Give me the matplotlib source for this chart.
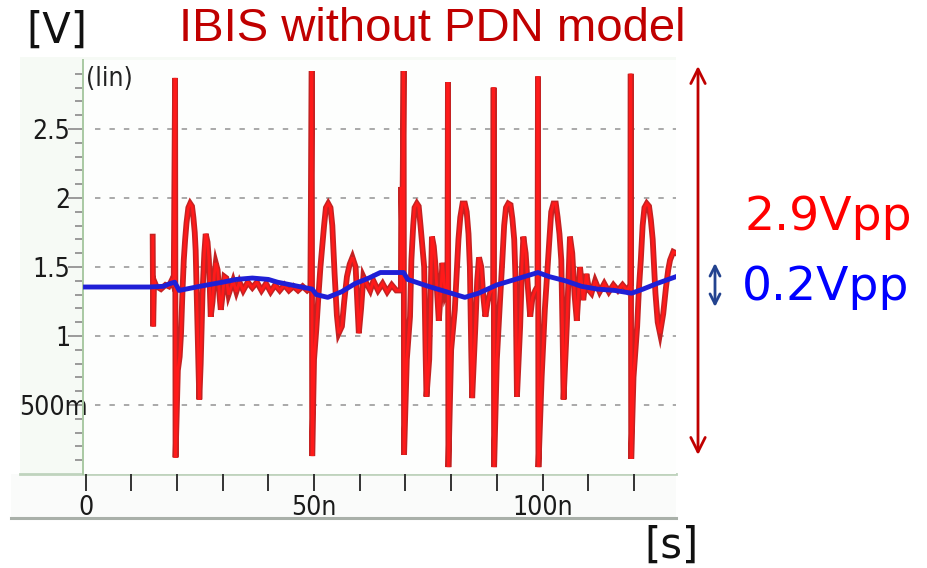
import matplotlib
matplotlib.use("Agg")
import matplotlib.pyplot as plt
import matplotlib.patheffects as pe
from matplotlib.patches import Rectangle, FancyArrowPatch
from matplotlib.lines import Line2D
from matplotlib.transforms import ScaledTranslation
from matplotlib.font_manager import FontProperties

# ---------------- data (time in ns, voltage in V) ----------------
red_t = [14.7, 14.8, 15.0, 15.5, 16.5, 17.5, 18.2, 18.8, 19.3,
         19.6, 19.7, 20.2, 20.6, 20.9, 21.2, 21.5, 21.8, 22.1, 22.5, 22.9, 23.3, 23.6,
         23.9, 24.1, 24.4, 24.7, 24.9, 25.2, 25.6, 26.0, 26.3, 26.7, 27.0, 27.4, 27.8,
         28.2, 28.5, 28.9, 29.3, 29.6, 30.0, 30.4, 30.8, 31.3, 31.8, 32.3, 33.0, 33.7,
         34.5, 35.5, 36.5, 37.5, 38.5, 39.5, 40.5, 41.5, 42.5, 43.5, 44.5, 45.5, 46.5,
         47.5, 48.5, 49.2,
         49.5, 49.6, 50.0, 50.5, 51.0, 51.4, 51.8, 52.2, 52.6, 53.1, 53.6, 54.0, 54.5,
         55.0, 55.4, 56.1, 56.6, 57.2, 57.8, 58.4, 59.1, 59.8, 60.3, 60.8, 61.5, 62.3,
         63.0, 64.0, 65.0, 66.0, 67.0, 68.0, 69.0, 69.1, 69.3,
         69.6, 69.7, 70.3, 71.0, 71.3, 71.7, 72.0, 72.5, 72.9, 73.3, 73.7, 74.1, 74.4,
         74.6, 75.2, 75.8, 76.2, 76.6, 77.3, 77.7, 78.1, 78.7, 79.2,
         79.3, 79.4, 80.0, 80.8, 81.2, 81.6, 82.0, 82.5, 83.0, 83.4, 83.8, 84.1, 84.4,
         84.6, 85.3, 85.7, 86.1, 86.6, 87.0, 87.5, 88.0, 88.5, 89.2,
         89.3, 89.4, 90.0, 90.6, 91.2, 91.6, 92.0, 92.5, 93.0, 93.4, 93.8, 94.1,
         94.4, 95.1, 95.5, 95.8, 96.3, 96.8, 97.3, 97.8, 98.4, 98.9,
         99.0, 99.1, 99.8, 100.5, 101.0, 101.5, 101.9, 102.4, 102.9, 103.3, 103.7,
         104.1, 104.4, 104.6, 105.3, 105.7, 106.0, 106.5, 107.0, 107.5, 108.2, 108.9,
         109.6, 110.2, 110.7, 111.5, 112.5, 113.5, 114.5, 115.5, 116.5, 117.5, 118.5,
         119.2,
         119.3, 119.4, 119.9, 120.7, 121.1, 121.5, 121.9, 122.3, 122.8, 123.3, 123.7,
         124.1, 124.7, 125.2, 125.7, 126.4, 127.0, 127.5, 127.9, 128.6, 129.2]
red_v = [1.72, 1.07, 1.40, 1.36, 1.34, 1.37, 1.36, 1.40, 1.36,
         2.87, 0.12, 0.75, 0.85, 1.02, 1.31, 1.55, 1.70, 1.82, 1.93, 1.96, 1.94, 1.86,
         1.75, 1.62, 1.20, 0.80, 0.54, 0.80, 1.31, 1.60, 1.74, 1.68, 1.55, 1.14, 1.25,
         1.45, 1.53, 1.48, 1.30, 1.19, 1.30, 1.43, 1.42, 1.30, 1.35, 1.40, 1.32, 1.39,
         1.33, 1.39, 1.35, 1.39, 1.33, 1.38, 1.32, 1.37, 1.33, 1.37, 1.33, 1.36, 1.33,
         1.36, 1.33, 1.35,
         2.92, 0.13, 0.83, 1.05, 1.31, 1.50, 1.65, 1.80, 1.93, 1.96, 1.93, 1.80, 1.45,
         1.15, 1.02, 1.07, 1.25, 1.43, 1.52, 1.57, 1.50, 1.02, 1.20, 1.43, 1.38, 1.33,
         1.40, 1.33, 1.38, 1.32, 1.37, 1.33, 1.33, 2.08, 1.70,
         2.92, 0.14, 0.83, 1.14, 1.55, 1.80, 1.93, 1.96, 1.94, 1.80, 1.65, 1.50, 0.90,
         0.56, 0.83, 1.72, 1.65, 1.50, 1.11, 1.30, 1.53, 1.31, 1.36,
         2.84, 0.05, 0.90, 1.19, 1.45, 1.70, 1.86, 1.96, 1.96, 1.90, 1.74, 1.50, 0.90,
         0.55, 1.07, 1.40, 1.57, 1.50, 1.30, 1.14, 1.25, 1.31, 1.36,
         2.80, 0.05, 0.83, 1.20, 1.55, 1.80, 1.93, 1.96, 1.95, 1.85, 1.70, 1.40,
         0.56, 1.07, 1.50, 1.72, 1.60, 1.35, 1.14, 1.28, 1.33, 1.36,
         2.88, 0.05, 0.70, 1.19, 1.45, 1.70, 1.90, 1.96, 1.96, 1.86, 1.74,
         1.55, 1.00, 0.54, 1.07, 1.45, 1.72, 1.60, 1.30, 1.11, 1.50, 1.26,
         1.45, 1.33, 1.31, 1.40, 1.32, 1.38, 1.32, 1.37, 1.33, 1.37, 1.33,
         1.37,
         2.90, 0.11, 0.70, 1.07, 1.35, 1.55, 1.80, 1.93, 1.96, 1.94, 1.84,
         1.70, 1.31, 1.10, 1.02, 1.16, 1.35, 1.48, 1.55, 1.61, 1.60]

blue_t = [0, 14, 17, 18.5, 19.5, 20.5, 22, 25, 30, 33, 36.5, 40, 42, 45, 48, 49.6,
          50.5, 53, 56, 59, 62, 64.5, 66, 69.6, 70.5, 75, 80, 83, 86, 90, 95, 99,
          101.5, 105, 108.5, 112, 115.8, 119.5, 122, 125, 129.2]
blue_v = [1.355, 1.355, 1.36, 1.38, 1.39, 1.33, 1.34, 1.36, 1.39, 1.41, 1.42, 1.41,
          1.39, 1.37, 1.35, 1.34, 1.30, 1.28, 1.32, 1.38, 1.42, 1.46, 1.46, 1.46,
          1.41, 1.36, 1.31, 1.28, 1.31, 1.37, 1.42, 1.46, 1.43, 1.40, 1.36, 1.34,
          1.33, 1.31, 1.34, 1.38, 1.43]

y_major = [0.5, 1.0, 1.5, 2.0, 2.5]
y_major_labels = ["500m", "1", "1.5", "2", "2.5"]
x_major = [0, 50, 100]
x_major_labels = ["0", "50n", "100n"]
x_minor = [10, 20, 30, 40, 60, 70, 80, 90, 110, 120]

title = "IBIS without PDN model"
red_pp = "2.9Vpp"
blue_pp = "0.2Vpp"

# ---------------- layout helpers ----------------
W, H = 928, 568
def fx(x): return x / W
def fy(y): return 1 - y / H

tick_font = FontProperties(family="DejaVu Sans", stretch="condensed", size=19)

fig = plt.figure(figsize=(W / 100, H / 100), dpi=100)
fig.patch.set_facecolor("white")

# screenshot frame backgrounds
fig.patches.append(Rectangle((fx(20), fy(474)), fx(676) - fx(20), fy(57) - fy(474),
                             transform=fig.transFigure, facecolor="#f6faf5",
                             edgecolor="none", zorder=-10))
fig.patches.append(Rectangle((fx(11), fy(518)), fx(676) - fx(11), fy(474) - fy(518),
                             transform=fig.transFigure, facecolor="#fafbfa",
                             edgecolor="none", zorder=-10))
fig.lines.append(Line2D([fx(11), fx(676)], [fy(518), fy(518)], transform=fig.transFigure,
                        color="#a9b0a9", lw=2.2, zorder=-5))
fig.lines.append(Line2D([fx(20), fx(676)], [fy(474), fy(474)], transform=fig.transFigure,
                        color="#bfd3bd", lw=2.0, zorder=-5))

ax = fig.add_axes([fx(83), fy(474), fx(676) - fx(83), fy(60) - fy(474)])
ax.set_zorder(1)
ax.set_facecolor("#fdfefd")
ax.set_xlim(-0.55, 129.2)
ax.set_ylim(0, 3.0)

for s in ["top", "right", "bottom"]:
    ax.spines[s].set_visible(False)
ax.spines["left"].set_color("#a9c9a3")
ax.spines["left"].set_linewidth(1.4)

ax.set_yticks(y_major)
ax.set_yticklabels(y_major_labels)
ax.set_yticks([i / 10 for i in range(1, 30) if i % 5 != 0], minor=True)
ax.tick_params(axis="y", which="major", direction="out", length=11, width=1.2,
               color="#8a8a8a", pad=-2, labelcolor="#1a1a1a")
ax.tick_params(axis="y", which="minor", direction="out", length=6, width=1.2,
               color="#8a8a8a")
for lab in ax.get_yticklabels():
    lab.set_fontproperties(tick_font)
    if lab.get_text() == "500m":
        lab.set_transform(lab.get_transform() + ScaledTranslation(0.17, 0, fig.dpi_scale_trans))

ax.set_xticks(x_major)
ax.set_xticklabels(x_major_labels)
ax.set_xticks(x_minor, minor=True)
ax.tick_params(axis="x", which="both", direction="out", length=12, width=1.4,
               color="#333333", pad=3, labelcolor="#1a1a1a")
for lab in ax.get_xticklabels():
    lab.set_fontproperties(tick_font)

# dashed horizontal grid (starts a little right of the axis as in the reference)
ax.hlines(y_major, 2.0, 129.2, colors="#a3a3a3", linestyles=(0, (3, 5)), lw=1.3, zorder=1)

# waveforms
ax.plot(red_t, red_v, color="#ff1a1a", lw=2.0, zorder=3, solid_joinstyle="miter",
        path_effects=[pe.Stroke(linewidth=4.2, foreground="#c42222"), pe.Normal()])
ax.plot(blue_t, blue_v, color="#1f1fd6", lw=3.5, zorder=4)

# texts
fig.text(fx(86), fy(79), "(lin)", fontproperties=FontProperties(
    family="DejaVu Sans", stretch="condensed", size=19), color="#222222",
    ha="left", va="center")
fig.text(fx(432), fy(29), title, fontsize=34, color="#c00000", ha="center", va="center",
         family="Liberation Sans")
fig.text(fx(57), fy(31), "[V]", fontsize=30, color="#111111", ha="center", va="center")
fig.text(fx(672), fy(546), "[s]", fontsize=30, color="#111111", ha="center", va="center")
fig.text(fx(828), fy(218), red_pp, fontsize=34, color="#ff0000", ha="center", va="center")
fig.text(fx(826), fy(287), blue_pp, fontsize=34, color="#0000ff", ha="center", va="center")

# double arrows
fig.add_artist(FancyArrowPatch((fx(698), fy(455)), (fx(698), fy(66)),
               transform=fig.transFigure, arrowstyle="<->", color="#c00000", lw=2.0,
               mutation_scale=26, shrinkA=0, shrinkB=0))
fig.add_artist(FancyArrowPatch((fx(715), fy(307)), (fx(715), fy(263)),
               transform=fig.transFigure, arrowstyle="<->", color="#23438f", lw=2.0,
               mutation_scale=18, shrinkA=0, shrinkB=0))

fig.savefig("out.png", dpi=100)
